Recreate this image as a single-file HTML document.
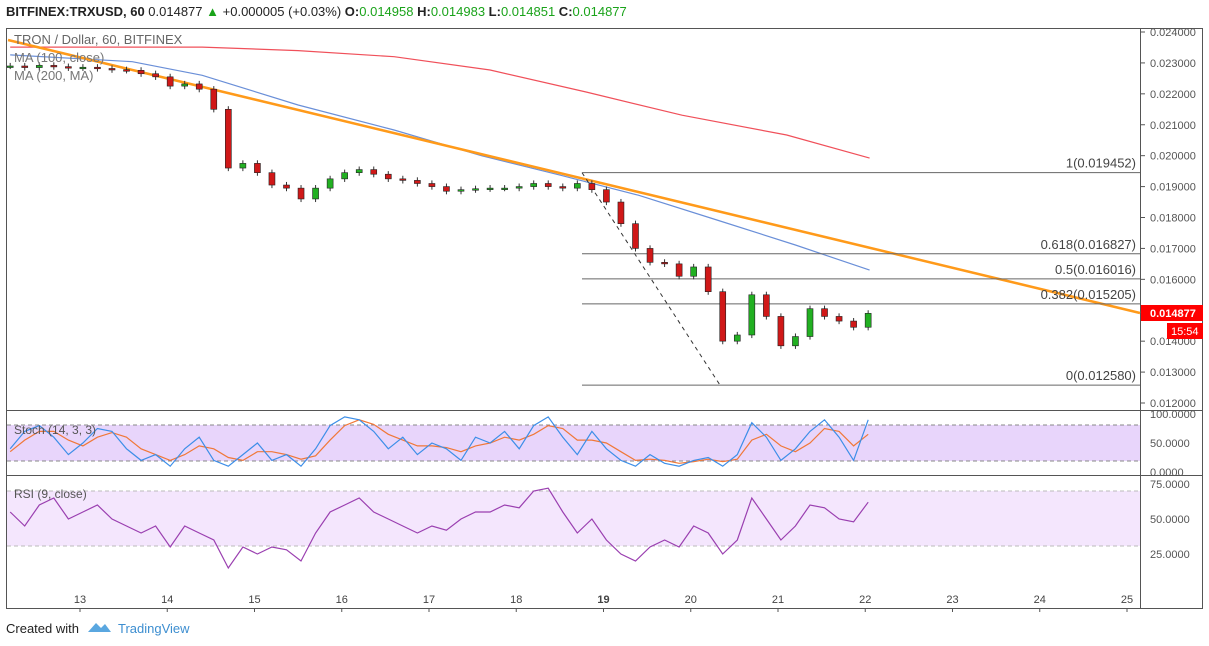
<!DOCTYPE html>
<html><head><meta charset="utf-8"><style>
body{margin:0;background:#fff;width:1209px;height:646px;overflow:hidden;font-family:"Liberation Sans",sans-serif}
svg{position:absolute;left:0;top:0}
</style></head><body>
<svg width="1209" height="646">
<text x="6" y="16" font-size="13" font-weight="bold" fill="#222">BITFINEX:TRXUSD, 60 <tspan font-weight="normal">0.014877</tspan> <tspan fill="#1aa31a">▲</tspan><tspan font-weight="normal"> +0.000005 (+0.03%) </tspan>O:<tspan fill="#1aa31a" font-weight="normal">0.014958</tspan> H:<tspan fill="#1aa31a" font-weight="normal">0.014983</tspan> L:<tspan fill="#1aa31a" font-weight="normal">0.014851</tspan> C:<tspan fill="#1aa31a" font-weight="normal">0.014877</tspan></text>
<g id="frame" stroke="#555" fill="none" stroke-width="1">
<rect x="6.5" y="28.5" width="1196" height="580"/>
<line x1="1140.5" y1="28" x2="1140.5" y2="609"/>
<line x1="6" y1="410.5" x2="1203" y2="410.5"/>
<line x1="6" y1="475.5" x2="1203" y2="475.5"/>
</g>
<rect x="7" y="425" width="1133" height="36" fill="#e8d5fb"/>
<line x1="7" y1="425" x2="1140" y2="425" stroke="#888" stroke-dasharray="4,3"/>
<line x1="7" y1="461" x2="1140" y2="461" stroke="#888" stroke-dasharray="4,3"/>
<rect x="7" y="491" width="1133" height="55" fill="#f4e6fd"/>
<line x1="7" y1="491" x2="1140" y2="491" stroke="#bbb" stroke-dasharray="4,3"/>
<line x1="7" y1="546" x2="1140" y2="546" stroke="#bbb" stroke-dasharray="4,3"/>
<g id="g-ma"></g><g id="g-fib"></g><g id="g-candles"></g><g id="g-osc"></g><g id="g-axis"></g>
<text x="14" y="44" font-size="13" fill="#666">TRON / Dollar, 60, BITFINEX</text>
<text x="14" y="62" font-size="13" fill="#777">MA (100, close)</text>
<text x="14" y="80" font-size="13" fill="#777">MA (200, MA)</text>
<text x="14" y="434" font-size="12" fill="#555">Stoch (14, 3, 3)</text>
<text x="14" y="498" font-size="12" fill="#555">RSI (9, close)</text>
<rect x="1141" y="305" width="62" height="16" fill="#f00"/>
<text x="1150" y="317" font-size="11" font-weight="bold" fill="#fff">0.014877</text>
<rect x="1167" y="323" width="36" height="16" fill="#f00"/>
<text x="1171" y="335" font-size="11" fill="#fff">15:54</text>
<text x="6" y="633" font-size="13" fill="#222">Created with</text>
<path d="M88 632 l8 -9 l5 5 l4 -4 l6 8 z" fill="#5aa7e0"/>
<text x="118" y="633" font-size="13" fill="#3d8ed0">TradingView</text>
</svg>
<script>
const days=[];
const closes=[.02290,.02285,.02292,.02288,.02284,.02286,.02282,.02278,.02276,.02265,.02255,.02225,.02232,.02215,.02150,.01960,.01975,.01945,.01905,.01895,.01860,.01895,.01925,.01945,.01955,.01940,.01925,.01920,.01910,.01900,.01885,.01890,.01893,.01895,.01895,.01900,.01910,.01900,.01895,.01910,.01890,.01850,.01780,.01700,.01655,.01650,.01610,.01640,.01560,.01400,.01420,.01550,.01480,.01385,.01415,.01505,.01480,.01465,.01445,.01490];
const stochK=[40,70,80,60,30,50,75,70,40,20,30,10,40,60,20,10,30,50,20,30,10,40,80,95,90,70,40,60,30,50,40,20,60,50,70,40,80,95,60,30,70,40,20,10,30,15,10,20,25,10,30,85,60,20,40,70,90,60,20,90];
const stochD=[35,55,70,70,55,45,60,68,60,40,30,20,30,45,40,25,20,35,35,30,22,28,55,80,90,82,65,55,45,45,42,35,45,50,60,55,65,80,75,55,55,50,35,20,22,20,15,18,22,18,22,55,65,45,35,50,75,70,45,65];
const rsi=[55,45,60,65,50,55,60,50,45,40,45,30,45,40,35,15,30,25,30,28,20,40,55,60,65,55,50,45,40,45,42,50,55,55,60,58,70,72,55,40,50,35,25,20,30,35,30,45,40,25,35,65,50,35,45,60,58,50,48,62];
const maDays=[12.2,13.6,14.4,15.5,16.6,17.6,18.5,19.4,20.3,21.2,22.05];
const ma100=[.02326,.02304,.0226,.02164,.02083,.0200,.01937,.01872,.01792,.01711,.0163];
const maDays2=[12.2,14.4,15.5,16.6,17.7,18.8,19.9,21.1,22.05];
const ma200=[.02351,.02351,.0234,.0232,.02277,.02206,.02131,.02067,.01992];
const fibLevels=[1,0.618,0.5,0.382,0];
const fibPrices=[.019452,.016827,.016016,.015205,.012580];
const priceTicks=[.024,.023,.022,.021,.020,.019,.018,.017,.016,.015,.014,.013,.012];
const dayTicks=[13,14,15,16,17,18,19,20,21,22,23,24,25];
const NS="http://www.w3.org/2000/svg";
for(let i=0;i<closes.length;i++)days.push(12.2+i/6);
const X=d=>80+(d-13)*87.25;
const Y=p=>32+(0.024-p)*30917;
const YS=v=>443-(v-50)*0.58;
const YR=v=>519-(v-50)*1.4;
function el(tag,a,parent){const e=document.createElementNS(NS,tag);for(const k in a)e.setAttribute(k,a[k]);document.getElementById(parent).appendChild(e);return e;}
function pts(xs,ys,fx,fy){return xs.map((x,i)=>fx(x).toFixed(1)+","+fy(ys[i]).toFixed(1)).join(" ");}
let e=el('polyline',{points:pts(maDays2,ma200,X,Y),fill:'none',stroke:'#f0505a','stroke-width':1.2},'g-ma');


e=el('polyline',{points:pts(maDays,ma100,X,Y),fill:'none',stroke:'#6a8fd8','stroke-width':1.2},'g-ma');


e=el('line',{x1:8,y1:40,x2:1140,y2:313,stroke:'#ff9a1a','stroke-width':2.5},'g-ma');


e=el('line',{x1:582,y1:Y(fibPrices[0]),x2:720,y2:Y(fibPrices[4]),stroke:'#333','stroke-dasharray':'4,4'},'g-fib');


fibLevels.forEach((l,i)=>{const y=Y(fibPrices[i]);
 let ln=el('line',{x1:582,y1:y,x2:1140,y2:y,stroke:'#666'},'g-fib');
 
 
 let t=el('text',{x:1136,y:y-5,'text-anchor':'end','font-size':13,fill:'#444'},'g-fib');
 t.textContent=l+"("+fibPrices[i].toFixed(6)+")";
 
 });
closes.forEach((c,i)=>{const o=i?closes[i-1]:c;const x=X(days[i]);const up=c>=o;
 const hi=Math.max(o,c)+0.0001,lo=Math.min(o,c)-0.0001;
 let w=el('line',{x1:x,y1:Y(hi),x2:x,y2:Y(lo),stroke:'#333'},'g-candles');
 
 
 const y1=Y(Math.max(o,c)),h=Math.max(1.5,Y(Math.min(o,c))-y1);
 let b=el('rect',{x:x-3,y:y1,width:6,height:h,fill:up?'#22b022':'#d01818',stroke:'#222','stroke-width':0.6},'g-candles');
 
 });
e=el('polyline',{points:pts(days,stochD,X,YS),fill:'none',stroke:'#f07838','stroke-width':1.2},'g-osc');


e=el('polyline',{points:pts(days,stochK,X,YS),fill:'none',stroke:'#3c8ee8','stroke-width':1.2},'g-osc');


e=el('polyline',{points:pts(days,rsi,X,YR),fill:'none',stroke:'#9a3fb0','stroke-width':1.2},'g-osc');


priceTicks.forEach(p=>{const y=Y(p);el('line',{x1:1140,y1:y,x2:1145,y2:y,stroke:'#555'},'g-axis');
 let t=el('text',{x:1150,y:y+4,'font-size':11,fill:'#555'},'g-axis');t.textContent=p.toFixed(6);
 
 });
[[100,'100.0000'],[50,'50.0000'],[0,'0.0000']].forEach(v=>{let t=el('text',{x:1150,y:YS(v[0])+4,'font-size':11,fill:'#555'},'g-axis');t.textContent=v[1];
 
 });
[[75,'75.0000'],[50,'50.0000'],[25,'25.0000']].forEach(v=>{let t=el('text',{x:1150,y:YR(v[0])+4,'font-size':11,fill:'#555'},'g-axis');t.textContent=v[1];
 
 });
dayTicks.forEach(d=>{const x=X(d);el('line',{x1:x,y1:608,x2:x,y2:612,stroke:'#555'},'g-axis');
 let t=el('text',{x:x,y:603,'text-anchor':'middle','font-size':11,fill:'#444','font-weight':d==19?'bold':'normal'},'g-axis');t.textContent=d;
 
 });
</script>
</body></html>
